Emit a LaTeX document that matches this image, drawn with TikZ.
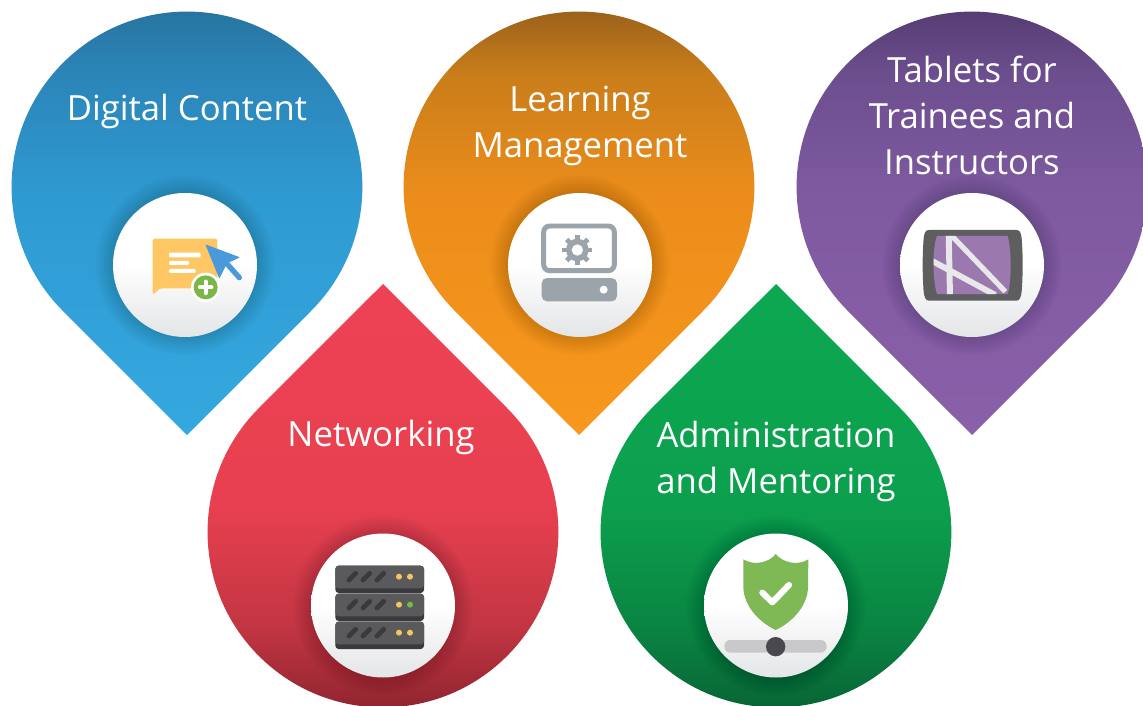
\documentclass[tikz,border=0pt]{standalone}
\usepackage{fontspec}
\setmainfont{Open Sans}
\definecolor{b0}{HTML}{27709B}\definecolor{b1}{HTML}{2B85B8}\definecolor{b2}{HTML}{2F9AD2}\definecolor{b3}{HTML}{35A8E0}
\definecolor{o0}{HTML}{8F5A1C}\definecolor{o1}{HTML}{C97D1A}\definecolor{o2}{HTML}{EC8D1B}\definecolor{o3}{HTML}{F8981D}
\definecolor{p0}{HTML}{50386B}\definecolor{p1}{HTML}{6C4E8E}\definecolor{p2}{HTML}{7F5AA0}\definecolor{p3}{HTML}{8A60A9}
\definecolor{r0}{HTML}{EE4254}\definecolor{r1}{HTML}{E84050}\definecolor{r2}{HTML}{C23542}\definecolor{r3}{HTML}{86222C}
\definecolor{g0}{HTML}{0DA751}\definecolor{g1}{HTML}{0CA04E}\definecolor{g2}{HTML}{0A8442}\definecolor{g3}{HTML}{075F33}
\pgfdeclareverticalshading{blueshade}{100bp}{color(0bp)=(b3);color(25bp)=(b3);color(52bp)=(b2);color(66bp)=(b1);color(75bp)=(b0);color(100bp)=(b0)}
\pgfdeclareverticalshading{orangeshade}{100bp}{color(0bp)=(o3);color(25bp)=(o3);color(52bp)=(o2);color(66bp)=(o1);color(75bp)=(o0);color(100bp)=(o0)}
\pgfdeclareverticalshading{purpleshade}{100bp}{color(0bp)=(p3);color(25bp)=(p3);color(52bp)=(p2);color(66bp)=(p1);color(75bp)=(p0);color(100bp)=(p0)}
\pgfdeclareverticalshading{redshade}{100bp}{color(0bp)=(r3);color(25bp)=(r3);color(36bp)=(r2);color(50bp)=(r1);color(75bp)=(r0);color(100bp)=(r0)}
\pgfdeclareverticalshading{greenshade}{100bp}{color(0bp)=(g3);color(25bp)=(g3);color(36bp)=(g2);color(50bp)=(g1);color(75bp)=(g0);color(100bp)=(g0)}
\newcommand{\droptipdown}[3]{\path[shading=#3] (#1,#2) ++(0,248) -- ++(124,-124) arc (45:-225:175.4) -- cycle;}
\newcommand{\droptipup}[3]{\path[shading=#3] (#1,#2) ++(0,-248) -- ++(124,124) arc (-45:225:175.4) -- cycle;}
\definecolor{iconlow}{HTML}{E4E5E7}
\newcommand{\iconbase}[2]{%
  \foreach \rr in {90,88.5,...,73}{\fill[black,opacity=0.012] (#1,#2) circle (\rr);}
  \path[top color=white,bottom color=iconlow,middle color=white] (#1,#2) circle (72);}
\tikzset{
  droplabel/.style={text=white,font=\fontsize{26pt}{34.5pt}\selectfont,align=center,inner sep=0pt},
  icon/.style={x=0.25pt,y=-0.25pt},
}
\begin{document}
\begin{tikzpicture}[x=0.75pt,y=-0.75pt]
\useasboundingbox (0,0) rectangle (1143,706);
\clip (0,0) rectangle (1143,706);
\fill[white] (0,0) rectangle (1143,706);
\droptipdown{187}{187}{blueshade}
\droptipdown{579}{187}{orangeshade}
\droptipdown{972}{187}{purpleshade}
\droptipup{383}{532}{redshade}
\droptipup{776}{532}{greenshade}
\iconbase{185}{265}
\iconbase{580}{265}
\iconbase{972}{265}
\iconbase{383}{605.5}
\iconbase{776}{605.5}
\node[droplabel] (digital) at (187,111) {Digital Content};
\node[droplabel] (learning) at (580,126) {Learning\\Management};
\node[droplabel] (tablets) at (972,115) {Tablets for\\Trainees and\\Instructors};
\node[droplabel] (networking) at (381,437) {Networking};
\node[droplabel] (admin) at (776,461) {Administration\\and Mentoring};
% icon 1
\begin{scope}[shift={(100,180)},icon]
\definecolor{bub}{HTML}{FFC764}
\fill[bub,rounded corners=1.8pt] (158,345) -- (158,176) -- (352,176) -- (352,325) -- (180,325) -- cycle;
\fill[white,rounded corners=0.8pt] (207,218) rectangle (302,232);
\fill[white,rounded corners=0.8pt] (207,243) rectangle (267,255);
\fill[white,rounded corners=0.8pt] (207,267) rectangle (287,279);
\fill[white] (317,322) circle[radius=44];
\definecolor{plusg}{HTML}{7AB648}
\fill[plusg] (317,322) circle[radius=36];
\draw[white,line width=3.2pt,line cap=round] (300,322) -- (334,322) (317,305) -- (317,339);
\definecolor{arr}{HTML}{4A9ADB}
\fill[arr,rounded corners=0.5pt] (316,193) -- (420,232) -- (381,250) -- (358,296) -- cycle;
\draw[arr,line width=4pt,line cap=round] (378,248) -- (418,293);
\end{scope}
% icon 2
\begin{scope}[shift={(495,180)},icon]
\definecolor{gr}{HTML}{9AA4AA}
\draw[gr,line width=3.7pt,rounded corners=4.5pt] (146,138) rectangle (358,272);
\fill[gr,rounded corners=4pt] (140,294) rectangle (366,364);
\fill[white] (326,329) circle[radius=12];
\fill[gr] (247,210) circle[radius=34];
\foreach \a in {0,45,...,315}{\draw[gr,line width=3.6pt] (247,210) -- ++(\a:45);}
\fill[white] (247,210) circle[radius=17];
\end{scope}
% icon 3
\begin{scope}[shift={(887,180)},icon]
\definecolor{tab}{HTML}{5E5E60}\definecolor{scr}{HTML}{9B78AE}\definecolor{band}{HTML}{E8E8EA}
\fill[tab] (126,150) -- (388,150) .. controls (400,150) and (402,160) .. (404,175) .. controls (408,225) and (408,285) .. (404,335) .. controls (402,352) and (398,362) .. (388,362) -- (126,362) .. controls (116,362) and (112,352) .. (110,335) .. controls (106,285) and (106,225) .. (110,175) .. controls (112,160) and (114,150) .. (126,150) -- cycle;
\begin{scope}
\clip (150,168) -- (362,168) .. controls (372,200) and (376,300) .. (362,342) -- (150,342) .. controls (136,300) and (136,200) .. (150,168) -- cycle;
\fill[scr] (130,160) rectangle (385,350);
\fill[band] (176,160) -- (194,160) -- (198,350) -- (180,350) -- cycle;
\draw[band,line width=3.9pt] (192,165) -- (355,335);
\draw[band,line width=4.4pt] (130,240) -- (325,345);
\end{scope}
\end{scope}
% icon 4
\begin{scope}[shift={(298,525)},icon]
\definecolor{srv}{HTML}{5A5A5C}\definecolor{srvd}{HTML}{3A3A3C}\definecolor{led}{HTML}{F5C55F}\definecolor{ledg}{HTML}{6CBE45}
\foreach \t/\c in {122/led,206/ledg,290/led}{
  \fill[srvd,rounded corners=2.5pt] (112,\t) rectangle (378,\t+82);
  \fill[srv,rounded corners=2.5pt] (112,\t) rectangle (378,\t+68);
  \foreach \s in {0,42,84}{\draw[srvd,line width=3.6pt,line cap=round] (153+\s,\t+43) -- (173+\s,\t+23);}
  \fill[led] (303,\t+33) circle[radius=9];
  \fill[\c] (336,\t+33) circle[radius=9];
}
\end{scope}
% icon 5
\begin{scope}[shift={(690,525)},icon]
\definecolor{shd}{HTML}{7FB956}\definecolor{barc}{HTML}{C9C8CA}\definecolor{hub}{HTML}{49484D}
\fill[shd] (257,87) .. controls (275,110) and (320,125) .. (355,103) -- (354,190) .. controls (350,250) and (300,295) .. (257,315) .. controls (214,295) and (164,250) .. (160,190) -- (160,103) .. controls (195,125) and (240,110) .. (257,87) -- cycle;
\draw[white,line width=4.6pt,line cap=round,line join=round] (217,203) -- (247,232) -- (297,180);
\fill[barc,rounded corners=4.5pt] (103,345) rectangle (410,383);
\fill[hub] (257,365) circle[radius=29];
\end{scope}
\end{tikzpicture}
\end{document}
